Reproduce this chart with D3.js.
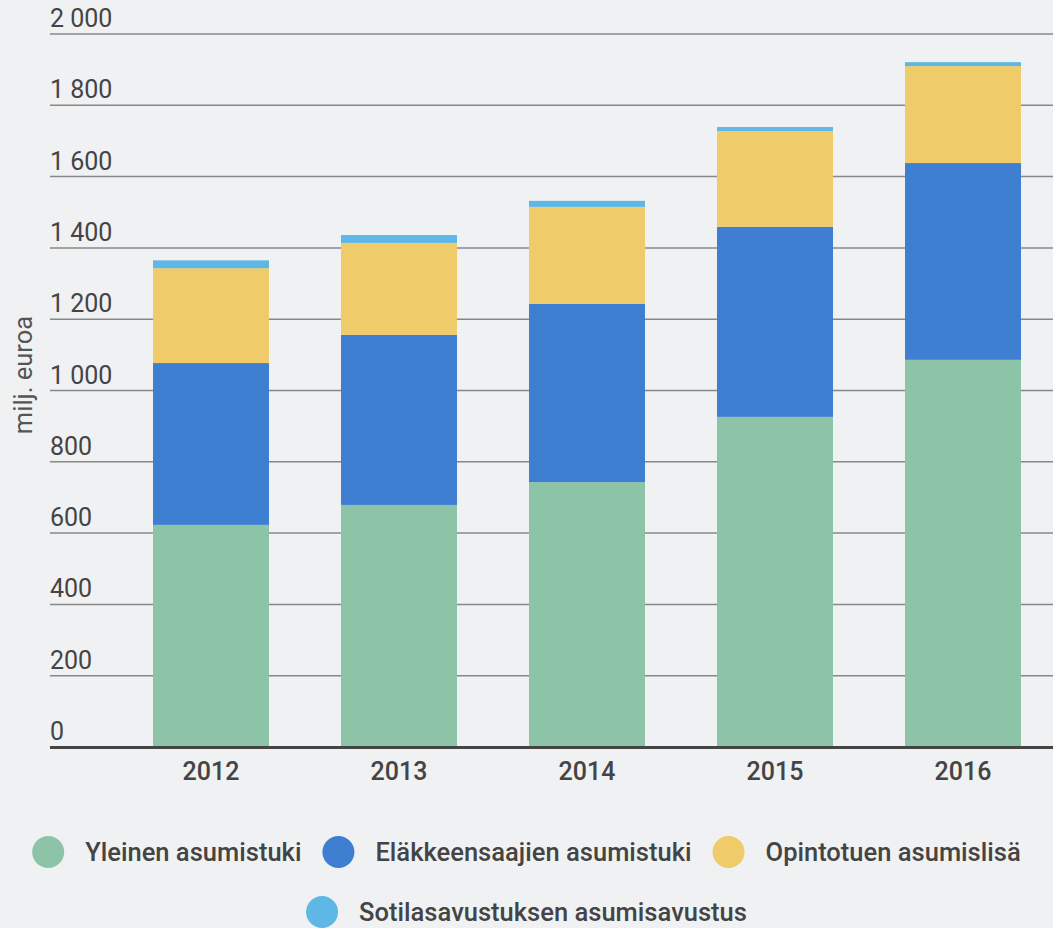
<!DOCTYPE html>
<html>
<head>
<meta charset="utf-8">
<script src="https://cdn.jsdelivr.net/npm/d3@7"></script>
<style>
  html, body { margin: 0; padding: 0; background: #f0f1f3; }
  svg { display: block; font-family: Roboto, "Noto Sans", sans-serif; }
  .med { font-family: "Roboto Medium", Roboto, "Noto Sans", sans-serif; font-weight: 500; }
</style>
</head>
<body>
<svg id="chart" width="1053" height="928"></svg>
<script>
var years = ["2012", "2013", "2014", "2015", "2016"];
var seriesNames = ["Yleinen asumistuki", "Eläkkeensaajien asumistuki", "Opintotuen asumislisä", "Sotilasavustuksen asumisavustus"];
var yleinen = [623, 679, 743, 926, 1086];
var elakkeensaajat = [454, 477, 500, 533, 552];
var opintotuki = [266, 258, 272, 269, 272];
var sotilasavustus = [22, 22, 17, 11, 11];
var yTicks = [0, 200, 400, 600, 800, 1000, 1200, 1400, 1600, 1800, 2000];
var colors = ["#8dc4a8", "#3f7fd1", "#efcb6a", "#5fb7e5"];

var svg = d3.select("#chart");
var width = 1053;
var cfg = { left: 50, top: 34, bottom: 747 };

var rows = years.map(function(y, i) {
  return {
    year: y,
    "Yleinen asumistuki": yleinen[i],
    "Eläkkeensaajien asumistuki": elakkeensaajat[i],
    "Opintotuen asumislisä": opintotuki[i],
    "Sotilasavustuksen asumisavustus": sotilasavustus[i]
  };
});

var x = d3.scaleBand().domain(years).range([117, 1057]).paddingInner(0.383).paddingOuter(0.1915);
var y = d3.scaleLinear().domain([0, 2000]).range([cfg.bottom, cfg.top]);
var fmt = function(v) { return d3.format(",")(v).replace(/,/g, " "); };

// gridlines + tick labels
var grid = svg.append("g");
grid.selectAll("line").data(yTicks.slice(1)).enter().append("line")
  .attr("x1", cfg.left).attr("x2", width)
  .attr("y1", function(d) { return y(d); })
  .attr("y2", function(d) { return y(d); })
  .attr("stroke", "#888").attr("stroke-width", 1.5);
grid.selectAll("text").data(yTicks).enter().append("text")
  .attr("x", cfg.left)
  .attr("y", function(d) { return y(d) - 7; })
  .attr("fill", "#444")
  .style("font-size", "25px")
  .text(fmt);

// stacked bars
var stack = d3.stack().keys(seriesNames);
svg.append("g").selectAll("g").data(stack(rows)).enter().append("g")
  .attr("fill", function(d, i) { return colors[i]; })
  .selectAll("rect").data(function(d) { return d; }).enter().append("rect")
  .attr("x", function(d) { return x(d.data.year); })
  .attr("width", x.bandwidth())
  .attr("y", function(d) { return y(d[1]); })
  .attr("height", function(d) { return y(d[0]) - y(d[1]); });

// baseline
svg.append("line")
  .attr("x1", cfg.left).attr("x2", width)
  .attr("y1", y(0) + 0.5).attr("y2", y(0) + 0.5)
  .attr("stroke", "#444").attr("stroke-width", 3);

// x labels
svg.append("g").selectAll("text").data(years).enter().append("text")
  .attr("class", "med")
  .attr("x", function(d) { return x(d) + x.bandwidth() / 2; })
  .attr("y", 780)
  .attr("text-anchor", "middle")
  .attr("fill", "#444")
  .style("font-size", "25px")
  .text(function(d) { return d; });

// y title
svg.append("text")
  .attr("transform", "translate(32,375) rotate(-90)")
  .attr("text-anchor", "middle")
  .attr("fill", "#555")
  .style("font-size", "25.5px")
  .text("milj. euroa");

// legend, wrapped and centred
var legend = svg.append("g");
var items = legend.selectAll("g").data(seriesNames).enter().append("g");
items.append("circle").attr("r", 16).attr("cx", 16).attr("cy", 0)
  .attr("fill", function(d, i) { return colors[i]; });
items.append("text").attr("x", 53).attr("y", 9)
  .attr("class", "med")
  .attr("fill", "#444")
  .style("font-size", "25.5px")
  .text(function(d) { return d; });

var gap = 21, maxW = 1000, lines = [[]], lineW = [0];
items.each(function(d, i) {
  var w = 53 + this.querySelector("text").getComputedTextLength();
  var k = lines.length - 1;
  var add = (lines[k].length ? gap : 0) + w;
  if (lines[k].length && lineW[k] + add > maxW) {
    lines.push([]); lineW.push(0); k++; add = w;
  }
  lines[k].push({ node: this, w: w });
  lineW[k] += add;
});
lines.forEach(function(line, k) {
  var cx = (width - lineW[k]) / 2;
  line.forEach(function(it) {
    d3.select(it.node).attr("transform", "translate(" + cx + "," + (852 + k * 60) + ")");
    cx += it.w + gap;
  });
});
</script>
</body>
</html>
